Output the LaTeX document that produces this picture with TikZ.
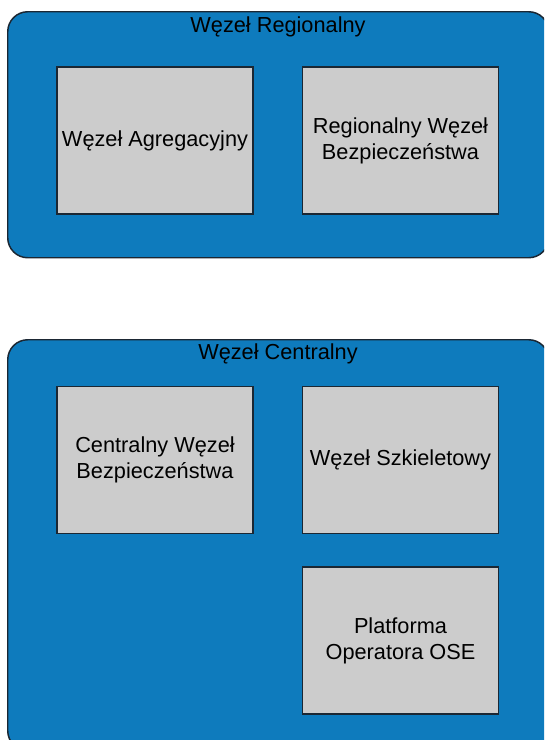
\documentclass[tikz,border=0pt]{standalone}
\usepackage{fontspec}
\setmainfont{Liberation Sans}
\definecolor{nodeblue}{HTML}{0E7BBD}
\definecolor{boxgray}{HTML}{CCCCCC}
\definecolor{edgedark}{HTML}{1B2733}

\tikzset{
  outerbox/.style={draw=edgedark,line width=1.1pt,fill=nodeblue,rounded corners=15pt,
                   anchor=north west,minimum width=405.75pt},
  innerbox/.style={draw=edgedark,line width=1.1pt,fill=boxgray,align=center,
                   minimum width=147pt,minimum height=110.25pt,
                   font=\fontsize{16.3pt}{19.5pt}\selectfont},
  boxtitle/.style={font=\fontsize{16.3pt}{19.5pt}\selectfont,inner sep=0pt}
}

\begin{document}
\begin{tikzpicture}[x=0.75pt,y=-0.75pt]

\clip (0,0) rectangle (544,740);
\fill[white] (0,0) rectangle (544,740);

% regional part
\node[outerbox,minimum height=184.5pt] (regional) at (7,11) {};
\node[boxtitle] (regionalTitle) at (278,27) {Węzeł Regionalny};
\node[innerbox] (aggr) at (155,140.5) {Węzeł Agregacyjny};
\node[innerbox] (regSec) at (400.5,140.5) {Regionalny Węzeł\\Bezpieczeństwa};

% central part
\node[outerbox,minimum height=308.25pt] (central) at (7,339) {};
\node[boxtitle] (centralTitle) at (278,354) {Węzeł Centralny};
\node[innerbox] (centSec) at (155,460) {Centralny Węzeł\\Bezpieczeństwa};
\node[innerbox] (backbone) at (400.5,460) {Węzeł Szkieletowy};
\node[innerbox] (platform) at (400.5,640.5) {Platforma\\Operatora OSE};

\end{tikzpicture}
\end{document}
